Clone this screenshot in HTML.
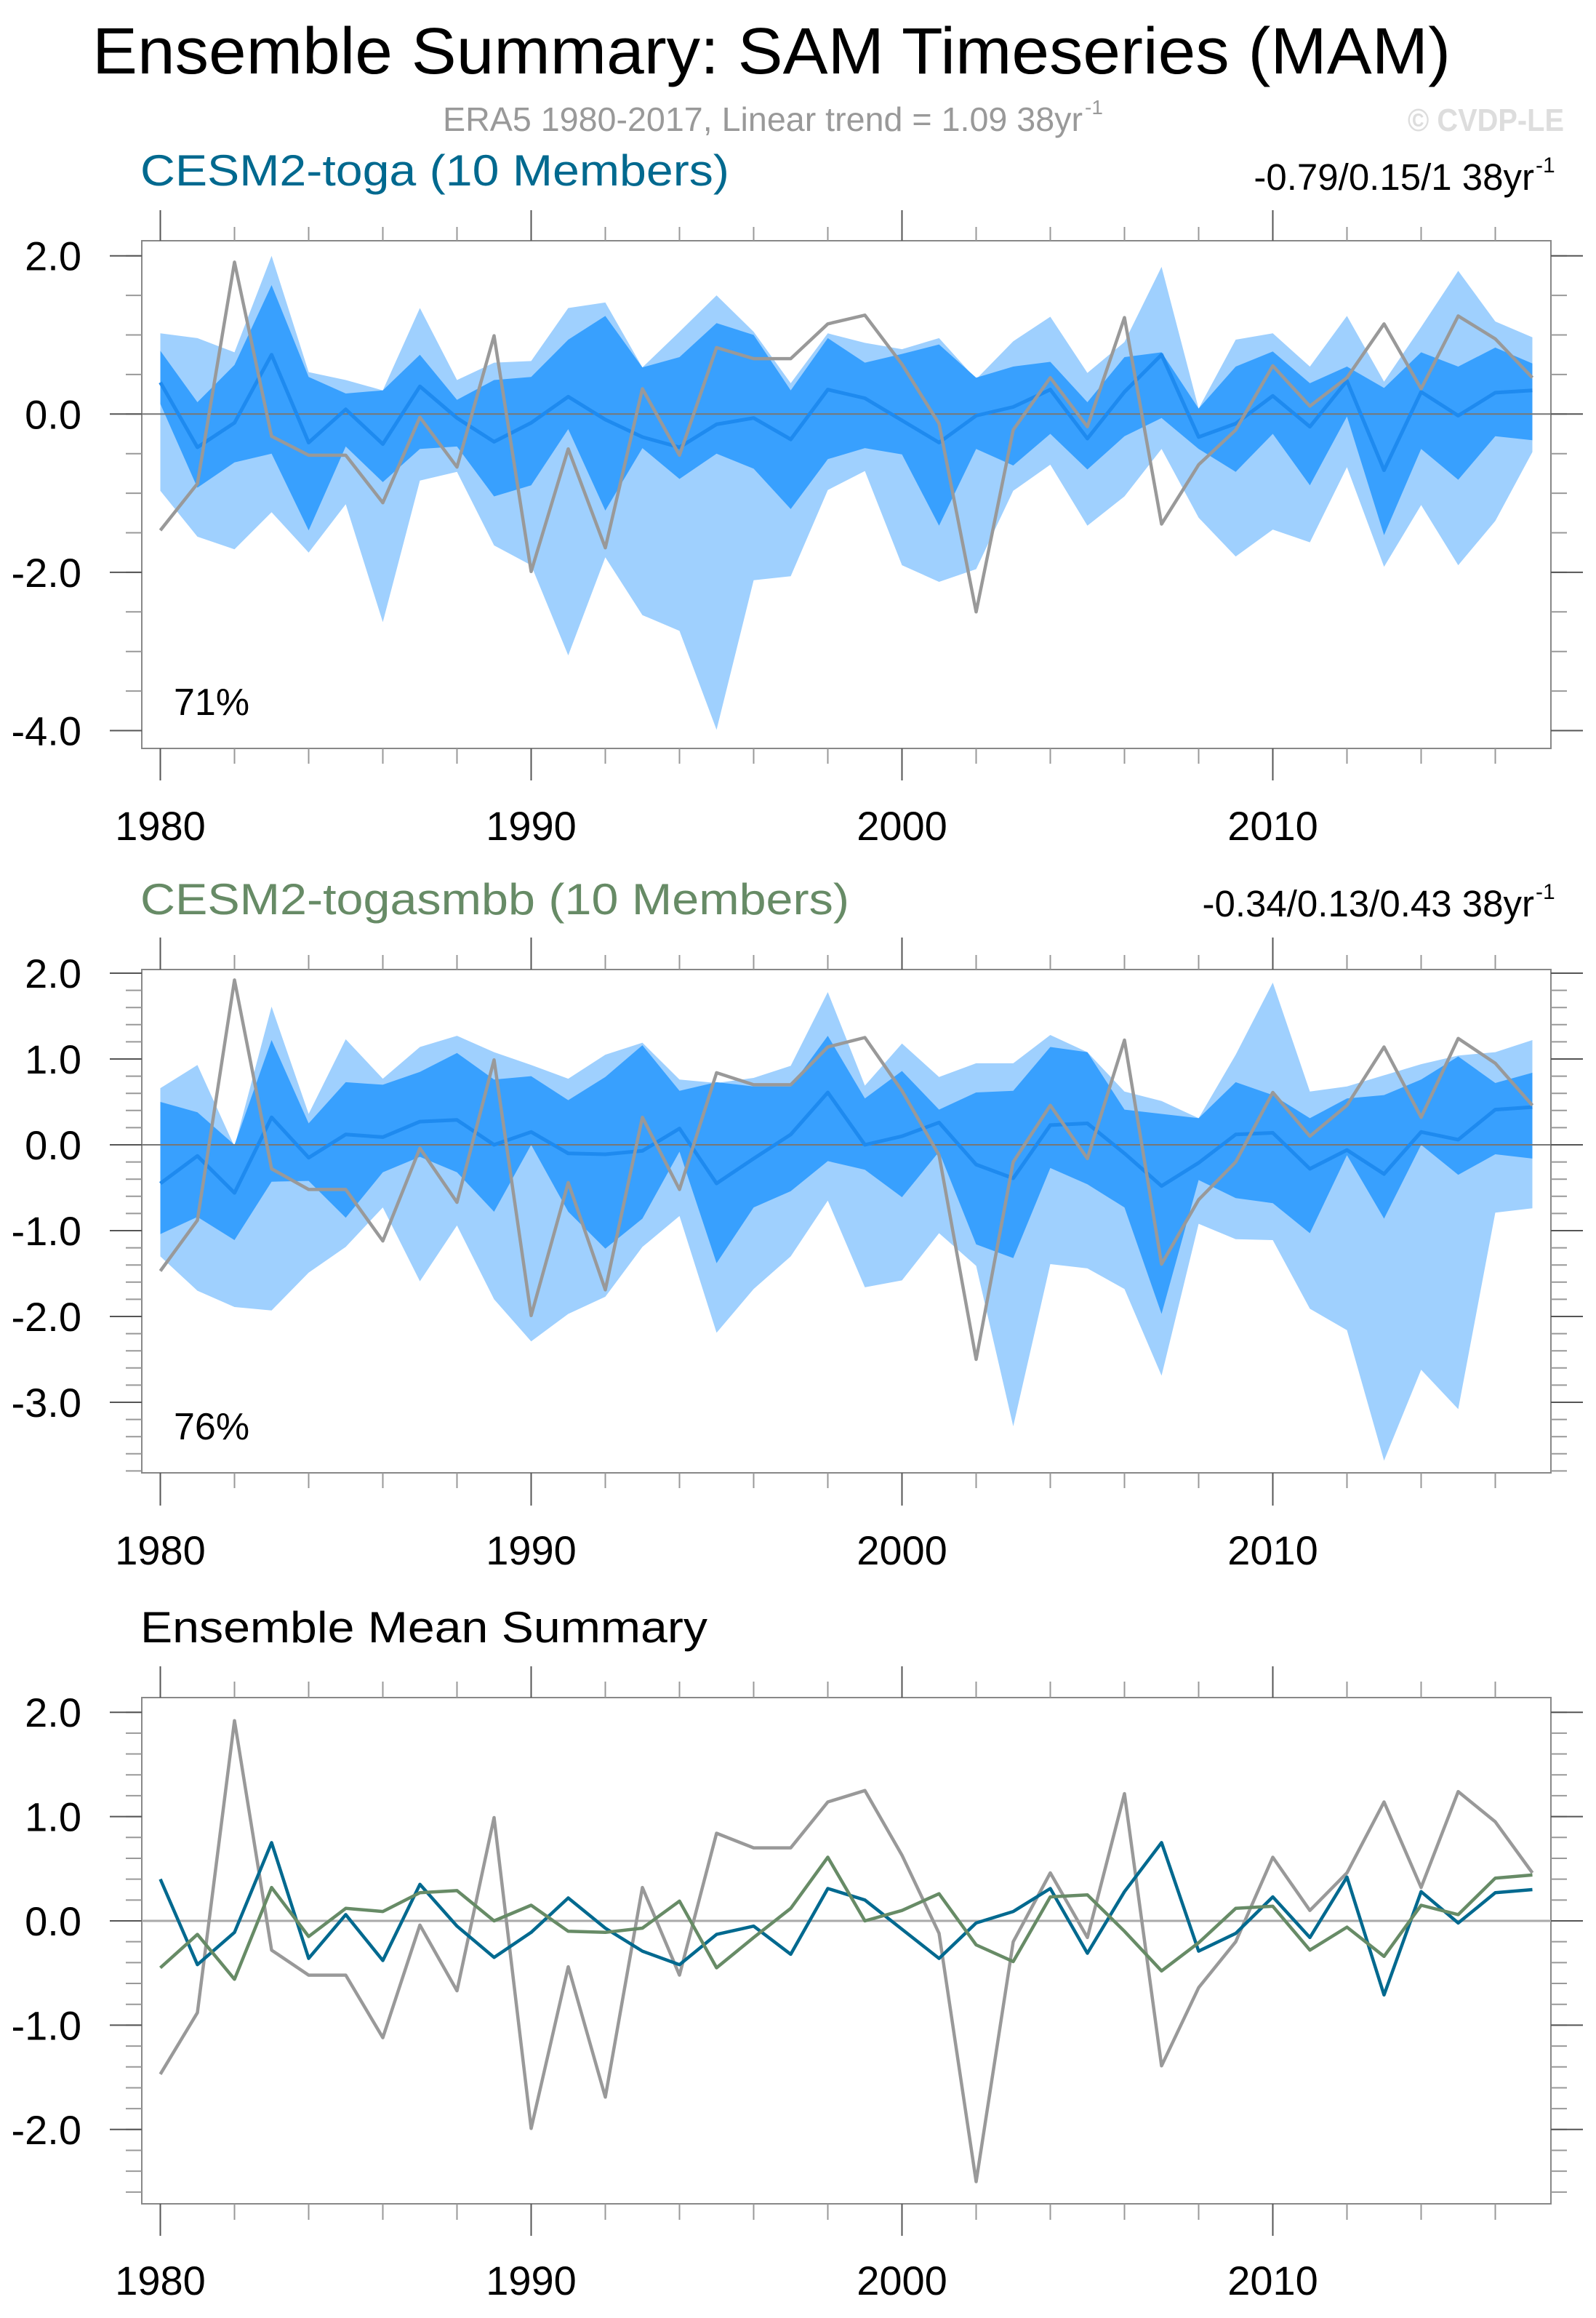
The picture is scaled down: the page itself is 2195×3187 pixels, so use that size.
<!DOCTYPE html>
<html><head><meta charset="utf-8"><style>
html,body{margin:0;padding:0;background:#fff;}
svg{display:block;font-family:"Liberation Sans",Arial,sans-serif;}
</style></head><body>
<svg id="chart" width="2195" height="3187" viewBox="0 0 2195 3187" xmlns="http://www.w3.org/2000/svg">
<text x="127" y="101" font-size="90" textLength="1868" lengthAdjust="spacingAndGlyphs" fill="#000">Ensemble Summary: SAM Timeseries (MAM)</text>
<text x="609" y="180" font-size="46" textLength="880" lengthAdjust="spacingAndGlyphs" fill="#999">ERA5 1980-2017, Linear trend = 1.09 38yr</text>
<text x="1492" y="157" font-size="28" fill="#999">-1</text>
<text x="1936" y="180" font-size="44" font-weight="bold" textLength="215" lengthAdjust="spacingAndGlyphs" fill="#ddd">© CVDP-LE</text>
<g id="plots"></g>
</svg>
<script>
const years = [];
for (let y = 1980; y <= 2017; y++) years.push(y);
const era5 = [-1.47,-0.88,1.92,-0.28,-0.52,-0.52,-1.12,-0.04,-0.67,0.99,-1.99,-0.44,-1.69,0.32,-0.52,0.84,0.70,0.70,1.14,1.25,0.63,-0.12,-2.50,-0.20,0.46,-0.16,1.22,-1.39,-0.64,-0.20,0.61,0.10,0.46,1.14,0.32,1.24,0.95,0.46];
const togaMean = [0.40,-0.42,-0.11,0.75,-0.36,0.06,-0.38,0.35,-0.05,-0.35,-0.11,0.22,-0.07,-0.29,-0.42,-0.13,-0.05,-0.32,0.31,0.20,-0.08,-0.36,-0.02,0.09,0.31,-0.31,0.28,0.75,-0.29,-0.12,0.23,-0.16,0.42,-0.71,0.28,-0.02,0.27,0.30];
const togaMax = [1.02,0.96,0.78,2.0,0.53,0.43,0.30,1.34,0.43,0.65,0.67,1.34,1.41,0.59,1.04,1.50,1.04,0.39,1.02,0.90,0.82,0.96,0.44,0.92,1.23,0.52,0.91,1.86,0.07,0.94,1.02,0.60,1.24,0.41,1.10,1.81,1.17,0.97];
const togaMin = [-0.97,-1.55,-1.71,-1.24,-1.75,-1.14,-2.63,-0.84,-0.73,-1.66,-1.91,-3.05,-1.81,-2.54,-2.74,-3.99,-2.10,-2.05,-0.96,-0.72,-1.91,-2.12,-1.96,-0.97,-0.64,-1.41,-1.04,-0.44,-1.31,-1.80,-1.46,-1.62,-0.67,-1.93,-1.15,-1.91,-1.35,-0.48];
const togaQ3 = [0.80,0.15,0.62,1.63,0.47,0.26,0.30,0.75,0.18,0.43,0.47,0.94,1.24,0.59,0.72,1.15,1.00,0.30,0.96,0.65,0.76,0.88,0.46,0.60,0.66,0.15,0.72,0.78,0.07,0.60,0.79,0.39,0.60,0.33,0.78,0.60,0.84,0.64];
const togaQ1 = [0.13,-0.93,-0.61,-0.50,-1.47,-0.41,-0.86,-0.44,-0.41,-1.04,-0.90,-0.19,-1.22,-0.43,-0.82,-0.50,-0.69,-1.20,-0.57,-0.43,-0.51,-1.41,-0.44,-0.65,-0.25,-0.70,-0.28,-0.05,-0.44,-0.73,-0.25,-0.90,-0.03,-1.53,-0.44,-0.83,-0.28,-0.33];
const smbbMean = [-0.45,-0.13,-0.56,0.32,-0.15,0.12,0.09,0.27,0.29,0.0,0.15,-0.10,-0.11,-0.07,0.19,-0.45,-0.16,0.12,0.61,0.0,0.10,0.26,-0.23,-0.39,0.23,0.25,-0.10,-0.48,-0.21,0.12,0.14,-0.28,-0.06,-0.34,0.15,0.06,0.41,0.44];
const smbbMax = [0.66,0.93,-0.02,1.61,0.36,1.23,0.77,1.14,1.27,1.08,0.93,0.77,1.05,1.19,0.76,0.72,0.78,0.92,1.78,0.69,1.18,0.79,0.95,0.95,1.28,1.08,0.62,0.51,0.31,1.05,1.89,0.62,0.68,0.81,0.94,1.04,1.08,1.22];
const smbbMin = [-1.30,-1.70,-1.89,-1.93,-1.49,-1.19,-0.73,-1.59,-0.94,-1.80,-2.29,-1.97,-1.77,-1.19,-0.83,-2.19,-1.68,-1.30,-0.65,-1.66,-1.58,-1.03,-1.41,-3.28,-1.39,-1.44,-1.68,-2.69,-0.92,-1.10,-1.11,-1.91,-2.16,-3.68,-2.62,-3.08,-0.79,-0.74];
const smbbQ3 = [0.50,0.38,0.0,1.22,0.25,0.73,0.70,0.85,1.07,0.76,0.80,0.52,0.79,1.16,0.63,0.73,0.68,0.68,1.27,0.54,0.86,0.41,0.61,0.63,1.14,1.08,0.41,0.36,0.31,0.73,0.58,0.31,0.54,0.58,0.76,1.03,0.72,0.84];
const smbbQ1 = [-1.04,-0.84,-1.11,-0.43,-0.42,-0.85,-0.32,-0.14,-0.32,-0.78,0.0,-0.78,-1.21,-0.86,-0.08,-1.38,-0.73,-0.54,-0.19,-0.29,-0.61,-0.08,-1.16,-1.32,-0.27,-0.46,-0.73,-1.97,-0.41,-0.62,-0.68,-1.03,-0.12,-0.86,0.0,-0.35,-0.11,-0.16];
const xTickYears = [1980,1990,2000,2010];

const NS = "http://www.w3.org/2000/svg";
const root = document.getElementById('plots');
function mk(tag, attrs, parent) {
  const e = document.createElementNS(NS, tag);
  for (const k in attrs) e.setAttribute(k, attrs[k]);
  (parent || root).appendChild(e);
  return e;
}
const X0 = 220.5, XS = 51.0, L = 195, R = 2133;
function xs(yr) { return X0 + (yr - 1980) * XS; }

const panels = [
  {top:331, bot:1029, zero:569.3, unit:108.8, labels:[2,0,-2,-4], minor:0.5, mmin:-4, mmax:2, tickTop:289, minorTop:312, tickBot:1073, minorBot:1050, yearY:1155,
   title:"CESM2-toga (10 Members)", titleColor:"#00698f", titleY:255, titleW:810, trend:"-0.79/0.15/1 38yr", trendY:261, pct:"71%", pctY:983, name:"toga",
   mean:togaMean, max:togaMax, min:togaMin, q3:togaQ3, q1:togaQ1},
  {top:1333, bot:2025, zero:1574, unit:118, labels:[2,1,0,-1,-2,-3], minor:0.2, mmin:-3.8, mmax:2, tickTop:1289, minorTop:1313, tickBot:2070, minorBot:2046, yearY:2151,
   title:"CESM2-togasmbb (10 Members)", titleColor:"#678b66", titleY:1257, titleW:975, trend:"-0.34/0.13/0.43 38yr", trendY:1260, pct:"76%", pctY:1979, name:"togasmbb",
   mean:smbbMean, max:smbbMax, min:smbbMin, q3:smbbQ3, q1:smbbQ1},
  {top:2334, bot:3030, zero:2641, unit:143.4, labels:[2,1,0,-1,-2], minor:0.2, mmin:-2.6, mmax:2, tickTop:2291, minorTop:2312, tickBot:3074, minorBot:3052, yearY:3155,
   title:"Ensemble Mean Summary", titleColor:"#000", titleY:2258, titleW:780, summary:true, name:"summary"}
];

function pts(arr, ys) { return arr.map((v,i)=> xs(years[i]).toFixed(1)+','+ys(v).toFixed(1)).join(' '); }
function band(hi, lo, ys) {
  const a = hi.map((v,i)=> xs(years[i]).toFixed(1)+','+ys(v).toFixed(1));
  const b = lo.map((v,i)=> xs(years[i]).toFixed(1)+','+ys(v).toFixed(1)).reverse();
  return a.concat(b).join(' ');
}

panels.forEach((p, pi) => {
  const ys = v => p.zero - v * p.unit;
  const g = mk('g', {});
  
  
  const t = mk('text', {x:193, y:p.titleY, 'font-size':60, fill:p.titleColor, textLength:p.titleW, lengthAdjust:'spacingAndGlyphs'}, g);
  t.textContent = p.title;
  
  
  if (p.trend) {
    const tr = mk('text', {x:2110, y:p.trendY, 'font-size':51, 'text-anchor':'end', fill:'#000'}, g);
    tr.textContent = p.trend;
    
    
    const ex = mk('text', {x:2112, y:p.trendY-24, 'font-size':30, fill:'#000'}, g);
    ex.textContent = '-1';
    
    
  }
  const box = mk('rect', {x:L, y:p.top, width:R-L, height:p.bot-p.top, fill:'#fff', stroke:'#888', 'stroke-width':2}, g);
  
  
  const clip = mk('clipPath', {id:'clip'+pi}, g);
  mk('rect', {x:L, y:p.top, width:R-L, height:p.bot-p.top}, clip);
  const data = mk('g', {'clip-path':'url(#clip'+pi+')'}, g);
  if (!p.summary) {
    const lb = mk('polygon', {points:band(p.max, p.min, ys), fill:'#9fd0fe'}, data);
    
    
    const db = mk('polygon', {points:band(p.q3, p.q1, ys), fill:'#38a0fe'}, data);
    
    
  }
  const zl = mk('line', {x1:L, x2:R, y1:ys(0), y2:ys(0), stroke:p.summary?'#aaa':'#777', 'stroke-width':p.summary?3:2}, data);
  
  
  if (!p.summary) {
    const ml = mk('polyline', {points:pts(p.mean, ys), fill:'none', stroke:'#1e8aef', 'stroke-width':5, 'stroke-linejoin':'round'}, data);
    
    
    const el = mk('polyline', {points:pts(era5, ys), fill:'none', stroke:'#999', 'stroke-width':4.5, 'stroke-linejoin':'round'}, data);
    
    
    const pc = mk('text', {x:239, y:p.pctY, 'font-size':52, fill:'#000'}, g);
    pc.textContent = p.pct;
    
    
  } else {
    const el = mk('polyline', {points:pts(era5, ys), fill:'none', stroke:'#999', 'stroke-width':4.5, 'stroke-linejoin':'round'}, data);
    
    
    const bl = mk('polyline', {points:pts(togaMean, ys), fill:'none', stroke:'#00698f', 'stroke-width':4.5, 'stroke-linejoin':'round'}, data);
    
    
    const gl = mk('polyline', {points:pts(smbbMean, ys), fill:'none', stroke:'#678b66', 'stroke-width':4.5, 'stroke-linejoin':'round'}, data);
    
    
  }
  const n = Math.round((p.mmax - p.mmin) / p.minor);
  for (let k = 0; k <= n; k++) {
    const v = p.mmin + k * p.minor;
    const y = ys(v);
    mk('line', {x1:L-22, x2:L, y1:y, y2:y, stroke:'#999', 'stroke-width':2}, g);
    mk('line', {x1:R, x2:R+22, y1:y, y2:y, stroke:'#999', 'stroke-width':2}, g);
  }
  p.labels.forEach(v => {
    const y = ys(v);
    mk('line', {x1:L-44, x2:L, y1:y, y2:y, stroke:'#555', 'stroke-width':2}, g);
    mk('line', {x1:R, x2:R+44, y1:y, y2:y, stroke:'#555', 'stroke-width':2}, g);
    const tl = mk('text', {x:112, y:y+20, 'font-size':56, 'text-anchor':'end', fill:'#000'}, g);
    tl.textContent = v.toFixed(1);
    
    
  });
  for (let yr = 1980; yr <= 2017; yr += 2) {
    const x = xs(yr);
    const major = xTickYears.includes(yr);
    mk('line', {x1:x, x2:x, y1:major?p.tickTop:p.minorTop, y2:p.top, stroke:major?'#555':'#999', 'stroke-width':2}, g);
    mk('line', {x1:x, x2:x, y1:p.bot, y2:major?p.tickBot:p.minorBot, stroke:major?'#555':'#999', 'stroke-width':2}, g);
  }
  xTickYears.forEach(yr => {
    const xl = mk('text', {x:xs(yr), y:p.yearY, 'font-size':56, 'text-anchor':'middle', fill:'#000'}, g);
    xl.textContent = String(yr);
    
    
  });
});
</script>
</body></html>
